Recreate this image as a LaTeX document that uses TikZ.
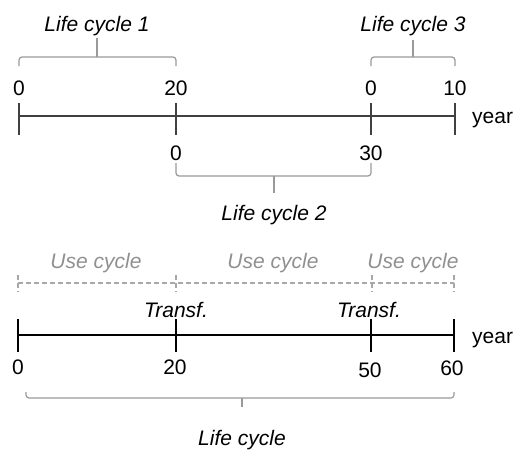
\documentclass[tikz,border=0pt]{standalone}
\usepackage{fontspec}
\setmainfont{Liberation Sans}
\begin{document}
\begin{tikzpicture}[x=1pt,y=-1pt,
  lbl/.style={font=\fontsize{21}{25}\selectfont, inner sep=0pt, anchor=base},
  itl/.style={lbl, font=\fontsize{21}{25}\selectfont\itshape},
  graytxt/.style={itl, text=usegray},
  axistop/.style={line width=1.4pt, draw=axisgray},
  axisbot/.style={line width=1.4pt, draw=black},
  brace/.style={line width=1.2pt, draw=bracegray, rounded corners=3pt},
  dashline/.style={line width=1.1pt, draw=dashgray, dash pattern=on 5pt off 3pt}
]
\definecolor{axisgray}{HTML}{404040}
\definecolor{bracegray}{HTML}{9A9A9A}
\definecolor{dashgray}{HTML}{A8A8A8}
\definecolor{usegray}{HTML}{909090}
\useasboundingbox (0,0) rectangle (515,450);

% ---------- top timeline ----------
\coordinate (a0) at (19,116);
\coordinate (a20) at (176,116);
\coordinate (a30) at (371,116);
\coordinate (a40) at (455,116);
\draw[axistop] (a0) -- (a40);
\foreach \p/\x in {a0/19,a20/176,a30/371,a40/455}{
  \coordinate (\p u) at (\x,103);
  \coordinate (\p d) at (\x,135);
  \draw[axistop] (\p u) -- (\p d);
}
\node[lbl] (n0) at (19,95) {0};
\node[lbl] (n20) at (176,95) {20};
\node[lbl] (n0b) at (371,95) {0};
\node[lbl] (n10) at (455,95) {10};
\node[lbl] (n0c) at (176,160) {0};
\node[lbl] (n30) at (371,160) {30};
\node[lbl, anchor=base west] (yr1) at (472,123) {year};

% brace life cycle 1
\coordinate (b1l) at (19,66);
\coordinate (b1r) at (176,66);
\coordinate (b1m) at (97,57);
\coordinate (b1t) at (97,38);
\draw[brace] (b1l) -- (19,57) -- (176,57) -- (b1r);
\draw[brace] (b1m) -- (b1t);
\node[itl] (lc1) at (97,31) {Life cycle 1};

% brace life cycle 3
\coordinate (b3l) at (371,66);
\coordinate (b3r) at (455,66);
\coordinate (b3m) at (413,57);
\coordinate (b3t) at (413,40);
\draw[brace] (b3l) -- (371,57) -- (455,57) -- (b3r);
\draw[brace] (b3m) -- (b3t);
\node[itl] (lc3) at (413,31) {Life cycle 3};

% brace life cycle 2
\coordinate (b2l) at (176,163);
\coordinate (b2r) at (371,163);
\coordinate (b2m) at (274,176);
\coordinate (b2b) at (274,193);
\draw[brace] (b2l) -- (176,176) -- (371,176) -- (b2r);
\draw[brace] (b2m) -- (b2b);
\node[itl] (lc2) at (274,220) {Life cycle 2};

% ---------- bottom timeline ----------
\coordinate (u0) at (18,283);
\coordinate (u20) at (176,283);
\coordinate (u50) at (372,283);
\coordinate (u60) at (454,283);
\draw[dashline] (u0) -- (u60);
\foreach \p/\x in {u0/18,u20/176,u50/372,u60/454}{
  \coordinate (\p u) at (\x,275);
  \coordinate (\p d) at (\x,292);
  \draw[dashline] (\p u) -- (\p d);
}
\node[graytxt] (uc1) at (96,268) {Use cycle};
\node[graytxt] (uc2) at (273,268) {Use cycle};
\node[graytxt] (uc3) at (413,268) {Use cycle};

\node[itl] (tr1) at (176,317) {Transf.};
\node[itl] (tr2) at (369,317) {Transf.};

\coordinate (c0) at (18,335);
\coordinate (c20) at (176,335);
\coordinate (c50) at (371,335);
\coordinate (c60) at (454,335);
\draw[axisbot] (c0) -- (c60);
\foreach \p/\x in {c0/18,c20/176,c50/371,c60/454}{
  \coordinate (\p u) at (\x,319);
  \coordinate (\p d) at (\x,352);
  \draw[axisbot] (\p u) -- (\p d);
}
\node[lbl] (m0) at (18,374) {0};
\node[lbl] (m20) at (175,374) {20};
\node[lbl] (m50) at (370,377) {50};
\node[lbl] (m60) at (452,375) {60};
\node[lbl, anchor=base west] (yr2) at (472,343) {year};

% brace life cycle
\coordinate (bll) at (26,392);
\coordinate (blr) at (454,392);
\coordinate (blm) at (242,398);
\coordinate (blb) at (242,407);
\draw[brace] (bll) -- (26,398) -- (454,398) -- (blr);
\draw[brace] (blm) -- (blb);
\node[itl] (lc) at (242,445) {Life cycle};
\end{tikzpicture}
\end{document}
